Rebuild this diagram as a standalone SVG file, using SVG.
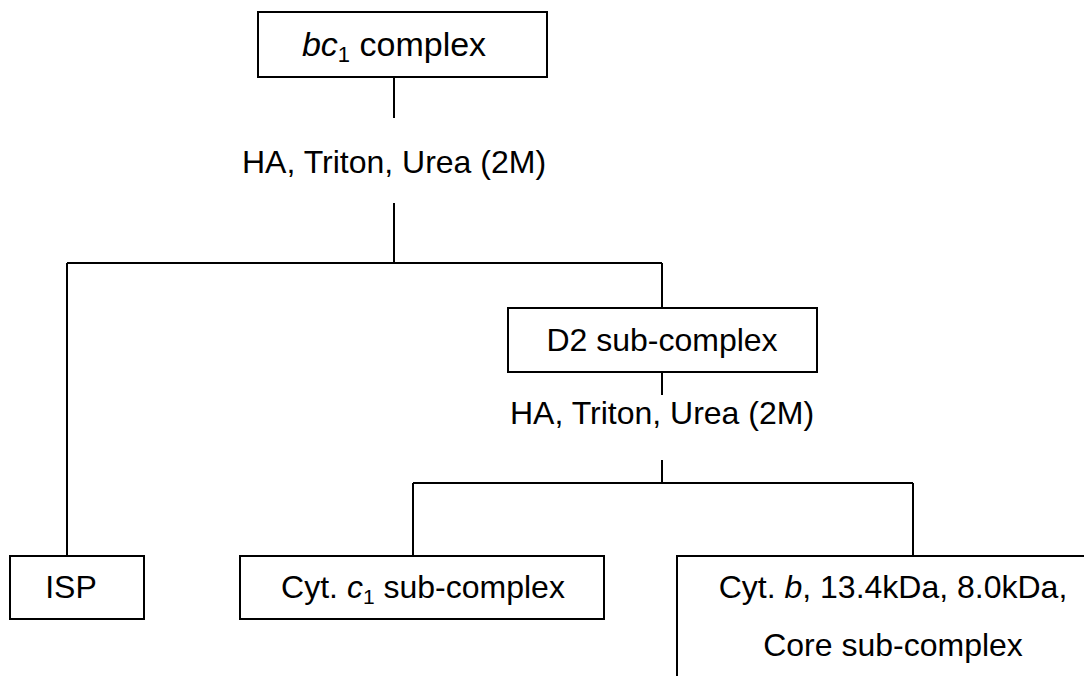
<svg xmlns="http://www.w3.org/2000/svg" width="1084" height="676" viewBox="0 0 1084 676">
<style>
.box{fill:#fff;stroke:#000;stroke-width:2}
.ln{fill:none;stroke:#000;stroke-width:2}
.t{font-family:"Liberation Sans",Arial,sans-serif;font-size:32px;fill:#000;text-anchor:middle}
</style>
<rect width="1084" height="676" fill="#fff"/>
<g id="connectors">
<path class="ln" d="M394,77 V118"/>
<path class="ln" d="M394,203 V263"/>
<path class="ln" d="M67,263 H662"/>
<path class="ln" d="M67,263 V556"/>
<path class="ln" d="M662,263 V308"/>
<path class="ln" d="M662,372 V395"/>
<path class="ln" d="M662,460 V483"/>
<path class="ln" d="M413,483 H913"/>
<path class="ln" d="M413,483 V556"/>
<path class="ln" d="M913,483 V556"/>
</g>
<g id="bc1">
<rect class="box" x="258" y="12" width="289" height="65"/>
<text class="t" x="394" y="56" style="font-size:34px"><tspan font-style="italic">bc</tspan><tspan style="font-size:22px" dy="6">1</tspan><tspan dy="-6"> complex</tspan></text>
</g>
<g id="label1">
<text class="t" x="394" y="173">HA, Triton, Urea (2M)</text>
</g>
<g id="d2">
<rect class="box" x="508" y="308" width="309" height="64"/>
<text class="t" x="662" y="351">D2 sub-complex</text>
</g>
<g id="label2">
<text class="t" x="662" y="424">HA, Triton, Urea (2M)</text>
</g>
<g id="isp">
<rect class="box" x="10" y="556" width="134" height="63"/>
<text class="t" x="71" y="598">ISP</text>
</g>
<g id="cytc1">
<rect class="box" x="240" y="556" width="364" height="63"/>
<text class="t" x="423" y="598">Cyt. <tspan font-style="italic">c</tspan><tspan font-size="21" dy="6">1</tspan><tspan dy="-6"> sub-complex</tspan></text>
</g>
<g id="core">
<path class="box" d="M677,677 V556 H1090"/>
<text class="t" x="893" y="598">Cyt. <tspan font-style="italic">b</tspan>, 13.4kDa, 8.0kDa,</text>
<text class="t" x="893" y="656">Core sub-complex</text>
</g>
</svg>
